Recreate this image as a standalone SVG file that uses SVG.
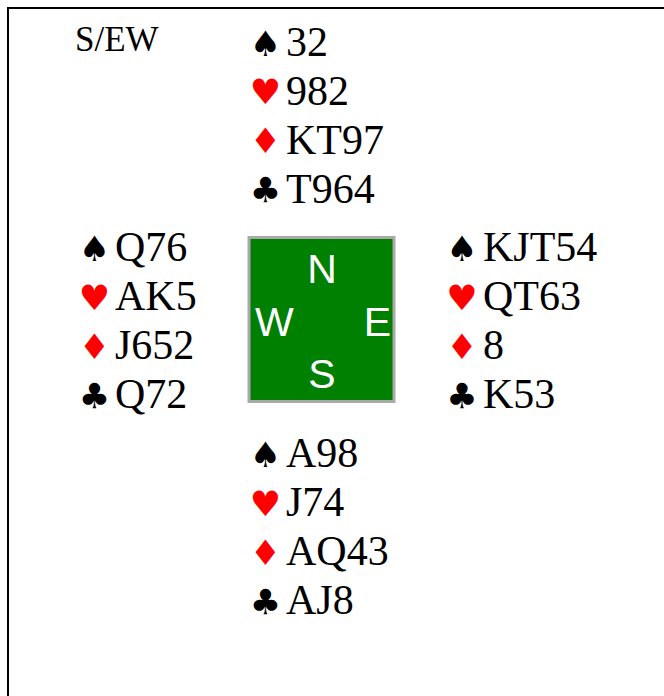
<svg xmlns="http://www.w3.org/2000/svg" width="664" height="696" viewBox="0 0 664 696">
  <style>
    .card { font-family: "Liberation Serif", "Times New Roman", serif; font-size: 42px; fill: #000; }
    .suit { font-family: "DejaVu Sans", sans-serif; font-size: 35px; text-anchor: middle; }
    .blk { fill: #000; }
    .red { fill: #ff0000; }
    .dir { font-family: "Liberation Sans", Arial, sans-serif; font-size: 41px; fill: #fff; }
    .info { font-family: "Liberation Serif", "Times New Roman", serif; font-size: 35px; fill: #000; }
  </style>

  <!-- outer frame -->
  <rect x="8" y="8" width="700" height="720" fill="none" stroke="#000" stroke-width="2"/>

  <!-- dealer / vulnerability -->
  <text id="deal" class="info" x="75" y="50.5">S/EW</text>

  <!-- North hand -->
  <g id="north">
    <text class="suit blk" x="265.5" y="56">♠</text>
    <text class="card" x="286" y="55.5">32</text>
    <text class="suit red" x="265.5" y="104">♥</text>
    <text class="card" x="286" y="104.5">982</text>
    <text class="suit red" x="265.5" y="153">♦</text>
    <text class="card" x="286" y="153.5">KT97</text>
    <text class="suit blk" x="265.5" y="202">♣</text>
    <text class="card" x="286" y="202.5">T964</text>
  </g>

  <!-- West hand -->
  <g id="west">
    <text class="suit blk" x="94.5" y="261">♠</text>
    <text class="card" x="115" y="261">Q76</text>
    <text class="suit red" x="94.5" y="310">♥</text>
    <text class="card" x="115" y="310">AK5</text>
    <text class="suit red" x="94.5" y="359">♦</text>
    <text class="card" x="115" y="359">J652</text>
    <text class="suit blk" x="94.5" y="408">♣</text>
    <text class="card" x="115" y="408">Q72</text>
  </g>

  <!-- East hand -->
  <g id="east">
    <text class="suit blk" x="462" y="261">♠</text>
    <text class="card" x="483" y="261">KJT54</text>
    <text class="suit red" x="462" y="310">♥</text>
    <text class="card" x="483" y="310">QT63</text>
    <text class="suit red" x="462" y="359">♦</text>
    <text class="card" x="483" y="359">8</text>
    <text class="suit blk" x="462" y="408">♣</text>
    <text class="card" x="483" y="408">K53</text>
  </g>

  <!-- South hand -->
  <g id="south">
    <text class="suit blk" x="265.5" y="467">♠</text>
    <text class="card" x="286" y="467">A98</text>
    <text class="suit red" x="265.5" y="516">♥</text>
    <text class="card" x="286" y="516">J74</text>
    <text class="suit red" x="265.5" y="565">♦</text>
    <text class="card" x="286" y="565">AQ43</text>
    <text class="suit blk" x="265.5" y="614">♣</text>
    <text class="card" x="286" y="614">AJ8</text>
  </g>

  <!-- table compass -->
  <g id="table">
    <rect x="249" y="237.5" width="145" height="164" fill="#008000" stroke="#a9a9a9" stroke-width="3"/>
    <text class="dir" x="322" y="283" text-anchor="middle">N</text>
    <text class="dir" x="255" y="336">W</text>
    <text class="dir" x="391" y="336" text-anchor="end">E</text>
    <text class="dir" x="322" y="388" text-anchor="middle">S</text>
  </g>
</svg>
